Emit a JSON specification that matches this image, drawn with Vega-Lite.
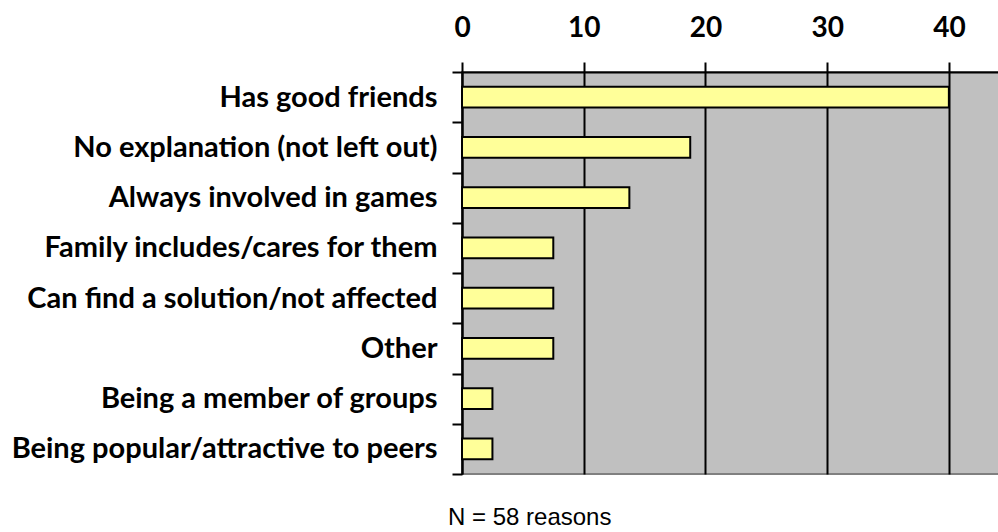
{
  "$schema": "https://vega.github.io/schema/vega-lite/v6.json",
  "width": 538,
  "height": 402,
  "padding": {"left": 0, "top": 0, "right": 0, "bottom": 0},
  "autosize": {"type": "pad"},
  "background": "white",
  "config": {"view": {"fill": "#C0C0C0", "stroke": "#808080", "strokeWidth": 2}},
  "title": {"text": "N = 58 reasons", "orient": "bottom", "anchor": "start", "frame": "group", "dx": -14, "offset": 50, "baseline": "alphabetic", "font": "Liberation Sans", "fontSize": 24, "fontWeight": "normal", "color": "black"},
  "data": {"values": [
    {"reason": "Has good friends", "pct": 40},
    {"reason": "No explanation (not left out)", "pct": 18.75},
    {"reason": "Always involved in games", "pct": 13.75},
    {"reason": "Family includes/cares for them", "pct": 7.5},
    {"reason": "Can find a solution/not affected ", "pct": 7.5},
    {"reason": "Other", "pct": 7.5},
    {"reason": "Being a member of groups", "pct": 2.5},
    {"reason": "Being popular/attractive to peers", "pct": 2.5}
  ]},
  "mark": {"type": "bar", "fill": "#FFFF99", "stroke": "black", "strokeWidth": 2, "height": {"band": 0.41}},
  "encoding": {
    "y": {"field": "reason", "type": "nominal", "sort": null,
      "scale": {"paddingInner": 0, "paddingOuter": 0},
      "axis": {"title": null, "tickBand": "extent", "tickSize": 10, "tickWidth": 2, "tickColor": "black", "domainColor": "black", "domainWidth": 2, "labelPadding": 15, "labelFont": "Lato", "labelFontWeight": "bold", "labelFontSize": 29, "labelColor": "black", "grid": false, "minExtent": 462, "maxExtent": 462, "labelLimit": 0}},
    "x": {"field": "pct", "type": "quantitative",
      "scale": {"domain": [0, 44.2], "nice": false, "zero": true},
      "axis": {"orient": "top", "title": null, "values": [0, 10, 20, 30, 40], "grid": true, "gridColor": "black", "gridWidth": 2, "gridOpacity": 1, "tickSize": 10, "tickWidth": 2, "tickColor": "black", "domainColor": "black", "domainWidth": 2, "labelFont": "Lato", "labelFontWeight": "bold", "labelFontSize": 28, "labelColor": "black", "labelPadding": 20, "minExtent": 72, "maxExtent": 72, "labelFlush": false}}
  }
}
